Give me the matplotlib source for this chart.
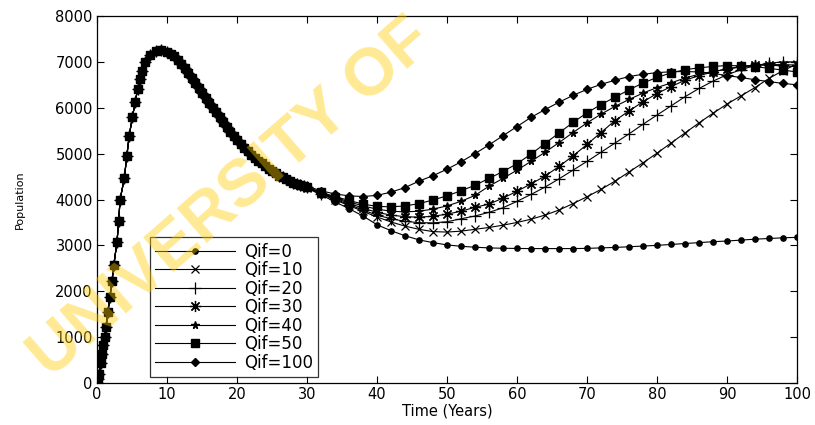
import numpy as np
import matplotlib
matplotlib.use("Agg")
import matplotlib.pyplot as plt

# --- DATA ---
# shared part: rise, peak and decline up to t = 29.5 (all runs overlap here)
t_common = [0, 0.2, 0.35, 0.55, 0.7, 0.9, 1.1, 1.3, 1.55, 1.85, 2.15, 2.4, 2.85, 3.1,
            3.3, 3.9, 4.25, 4.6, 5.05, 5.45, 5.8, 6.15, 6.45, 6.9, 7.6, 8.4, 9.2,
            10, 10.5, 11, 11.5, 12, 12.5, 13, 13.5, 14, 14.5, 15, 15.5, 16, 16.5,
            17, 17.5, 18, 18.5, 19, 19.5, 20, 20.5, 21, 21.5, 22, 22.5, 23, 23.5,
            24, 24.5, 25, 25.5, 26, 26.5, 27, 27.5, 28, 28.5, 29, 29.5]
pop_common = [0, 80, 200, 428, 632, 828, 1010, 1228, 1555, 1882, 2230, 2572, 3066, 3540,
              4000, 4460, 4940, 5390, 5790, 6120, 6400, 6620, 6810, 7000, 7150, 7230, 7255,
              7220, 7180, 7120, 7045, 6960, 6865, 6760, 6650, 6540, 6430, 6320, 6215,
              6110, 6005, 5900, 5790, 5680, 5580, 5480, 5390, 5300, 5215, 5130, 5055,
              4980, 4915, 4850, 4790, 4730, 4675, 4620, 4570, 4520, 4480, 4440, 4405,
              4370, 4340, 4310, 4285]

# separate part, every 2 years from t = 30 to t = 100
t_tail = list(range(30, 101, 2))
qif0 = [4250, 4100, 3950, 3800, 3640, 3450, 3320, 3210, 3120, 3060, 3010, 2980,
        2960, 2945, 2937, 2933, 2930, 2930, 2930, 2930, 2935, 2945, 2955, 2970,
        2985, 3000, 3020, 3040, 3060, 3080, 3095, 3115, 3135, 3150, 3165, 3175]
qif10 = [4260, 4120, 3990, 3870, 3740, 3620, 3510, 3420, 3350, 3300, 3290, 3310,
         3350, 3390, 3440, 3500, 3570, 3660, 3770, 3910, 4060, 4220, 4400, 4600,
         4800, 5010, 5230, 5450, 5670, 5880, 6080, 6260, 6440, 6640, 6810, 6950]
qif20 = [4265, 4130, 4010, 3890, 3770, 3660, 3580, 3525, 3495, 3490, 3515, 3580,
         3640, 3720, 3820, 3960, 4110, 4270, 4450, 4640, 4830, 5030, 5230, 5430,
         5640, 5840, 6040, 6240, 6420, 6580, 6720, 6830, 6920, 6970, 7000, 7000]
qif30 = [4268, 4140, 4030, 3920, 3810, 3720, 3660, 3625, 3615, 3635, 3680, 3745,
         3830, 3900, 4030, 4180, 4340, 4510, 4720, 4950, 5200, 5460, 5720, 5930,
         6130, 6310, 6460, 6600, 6700, 6780, 6850, 6900, 6930, 6940, 6940, 6930]
qif40 = [4270, 4145, 4045, 3950, 3860, 3790, 3745, 3730, 3745, 3790, 3860, 3960,
         4090, 4290, 4460, 4640, 4830, 5030, 5240, 5460, 5670, 5860, 6030, 6180,
         6320, 6440, 6540, 6650, 6730, 6790, 6840, 6890, 6930, 6930, 6910, 6895]
qif50 = [4275, 4155, 4065, 3980, 3900, 3850, 3840, 3860, 3910, 3990, 4080, 4190,
         4310, 4460, 4610, 4780, 4990, 5220, 5450, 5680, 5890, 6070, 6230, 6390,
         6540, 6660, 6760, 6830, 6870, 6900, 6920, 6915, 6895, 6860, 6820, 6780]
qif100 = [4290, 4190, 4120, 4080, 4065, 4090, 4160, 4260, 4400, 4520, 4660, 4820,
          5000, 5190, 5390, 5590, 5790, 5960, 6120, 6270, 6400, 6510, 6600, 6680,
          6730, 6765, 6785, 6790, 6780, 6750, 6700, 6660, 6610, 6570, 6530, 6500]

labels = ["Qif=0", "Qif=10", "Qif=20", "Qif=30", "Qif=40", "Qif=50", "Qif=100"]
series = [qif0, qif10, qif20, qif30, qif40, qif50, qif100]

# marker style per run (MATLAB-like: '.', 'x', '+', '*', 'p', 's', 'd')
styles = [
    dict(marker="o", markersize=3.8),
    dict(marker="x", markersize=6, markeredgewidth=0.9),
    dict(marker="+", markersize=9, markeredgewidth=0.9),
    dict(marker=(8, 2, 0), markersize=8, markeredgewidth=0.9),
    dict(marker="*", markersize=5.5),
    dict(marker="s", markersize=5.2),
    dict(marker="D", markersize=3.6),
]

# --- FIGURE ---
plt.rcParams["font.family"] = ["DejaVu Sans"]
fig = plt.figure(figsize=(8.15, 4.25), dpi=100)
ax = fig.add_axes([97 / 815, 42 / 425, 700 / 815, 367 / 425])

for lab, tail, st in zip(labels, series, styles):
    t = t_common + t_tail
    y = pop_common + tail
    ax.plot(t, y, color="black", linewidth=0.8, markerfacecolor="black",
            markeredgecolor="black", label=lab, **st)

ax.set_xlim(0, 100)
ax.set_ylim(0, 8000)
ax.set_xticks(np.arange(0, 101, 10))
ax.set_yticks(np.arange(0, 8001, 1000))
ax.tick_params(direction="in", length=5, width=0.8, top=True, right=True,
               labelsize=10.5, pad=3)
for sp in ax.spines.values():
    sp.set_linewidth(0.9)

ax.set_xlabel("Time (Years)", fontsize=10.5, labelpad=1)
ax.set_ylabel("Population", fontsize=8, labelpad=22)

leg = ax.legend(loc="lower left", bbox_to_anchor=(150 / 815, 48 / 425),
                bbox_transform=fig.transFigure, borderaxespad=0, fontsize=12,
                handlelength=4.8, labelspacing=0.03, handletextpad=0.5,
                borderpad=0.32, fancybox=False, frameon=True)
leg.get_frame().set_edgecolor("black")
leg.get_frame().set_linewidth(0.9)

# watermark of the source document
fig.text(232 / 815, 1 - 200 / 425, "UNIVERSITY OF", fontsize=48, fontweight="bold",
         family=["Liberation Sans", "DejaVu Sans"], color="#FFCC00", alpha=0.42,
         rotation=41, ha="center", va="center", zorder=10)

fig.savefig("out.png", dpi=100)
